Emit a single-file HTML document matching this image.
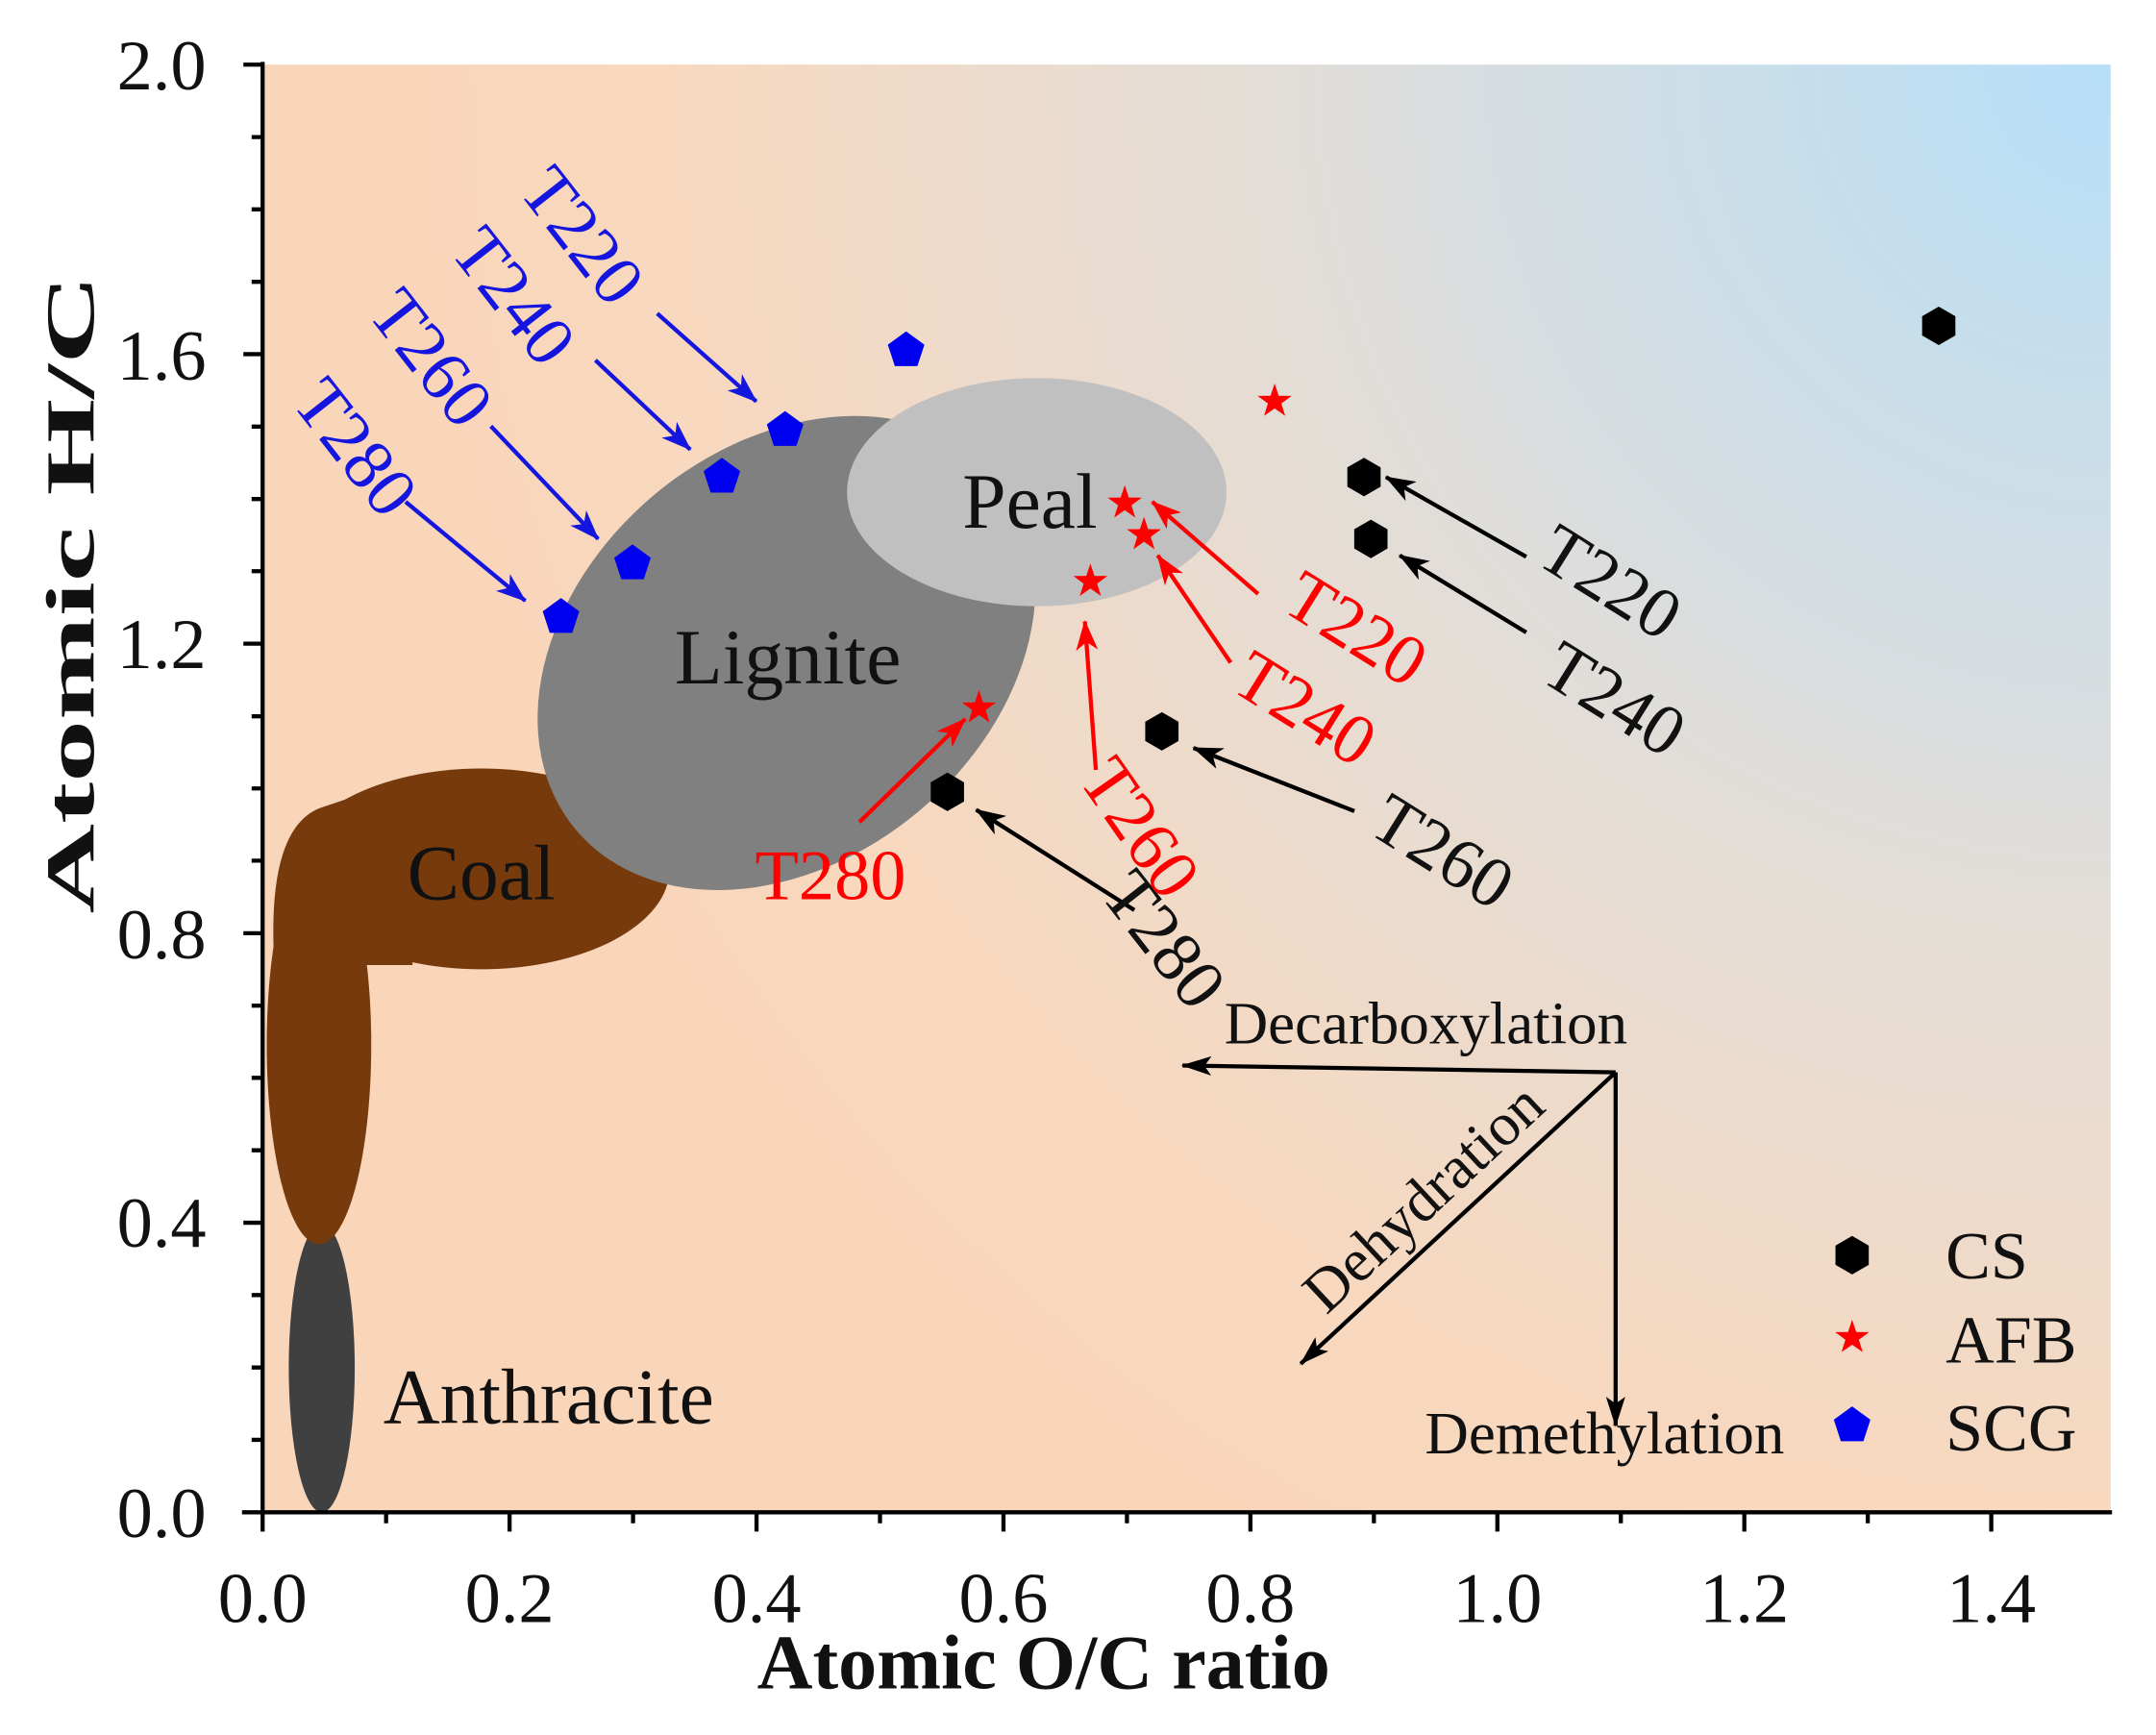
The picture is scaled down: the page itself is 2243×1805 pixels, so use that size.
<!DOCTYPE html>
<html><head><meta charset="utf-8"><style>html,body{margin:0;padding:0;background:#fff}svg{display:block}</style></head>
<body>
<svg width="2243" height="1805" viewBox="0 0 1568 1262" preserveAspectRatio="none" font-family="'Liberation Serif', serif">
<defs>
<radialGradient id="bg" gradientUnits="userSpaceOnUse" cx="1535" cy="47" r="1250">
<stop offset="0" stop-color="#b6def8"/>
<stop offset="0.5" stop-color="#e3ddd7"/>
<stop offset="0.85" stop-color="#f8d8be"/>
<stop offset="1" stop-color="#f9d6ba"/>
</radialGradient>
<marker id="ak" markerWidth="22" markerHeight="14" refX="21" refY="7" orient="auto" markerUnits="userSpaceOnUse"><path d="M0,0 L22,7 L0,14 L5,7z" fill="#000"/></marker>
<marker id="ar" markerWidth="22" markerHeight="16" refX="21" refY="8" orient="auto" markerUnits="userSpaceOnUse"><path d="M0,0 L22,8 L0,16 L6,8z" fill="#f00"/></marker>
<marker id="ab" markerWidth="22" markerHeight="16" refX="21" refY="8" orient="auto" markerUnits="userSpaceOnUse"><path d="M0,0 L22,8 L0,16 L6,8z" fill="#1515e0"/></marker>
<marker id="abk" markerWidth="22" markerHeight="16" refX="21" refY="8" orient="auto" markerUnits="userSpaceOnUse"><path d="M0,0 L22,8 L0,16 L6,8z" fill="#000"/></marker>
<path id="hex" d="M0,-14 L12.1,-7 L12.1,7 L0,14 L-12.1,7 L-12.1,-7Z" fill="#000"/>
<path id="star" d="M0,-13 L3,-4.1 L12.4,-4 L4.9,1.5 L7.7,10.5 L0,5.1 L-7.7,10.5 L-4.9,1.5 L-12.4,-4 L-3,-4.1Z" fill="#f00"/>
<path id="pent" d="M0,-14 L13.3,-4.3 L8.2,11.3 L-8.2,11.3 L-13.3,-4.3Z" fill="#0000f0"/>
</defs>
<rect x="191" y="47" width="1344" height="1053" fill="url(#bg)"/>
<!-- regions -->
<ellipse cx="234" cy="995" rx="24" ry="105" fill="#404040"/>
<g fill="#773a0c">
<ellipse cx="232" cy="760" rx="38" ry="145"/>
<ellipse cx="350" cy="632" rx="137" ry="73"/>
<path d="M199,690 Q196,603 232,588 L300,565 L300,702 L266,702 Z"/>
</g>
<ellipse cx="572" cy="475" rx="200" ry="150" transform="rotate(-40 572 475)" fill="#808080"/>
<ellipse cx="754" cy="358" rx="138" ry="83" fill="#c0c0c0"/>
<g font-size="57" fill="#111" text-anchor="middle">
<text x="749" y="384">Peal</text>
<text x="573" y="497">Lignite</text>
<text x="350" y="654">Coal</text>
<text x="399" y="1035">Anthracite</text>
</g>
<!-- axes -->
<g stroke="#000" stroke-width="3" fill="none">
<line x1="191" y1="45" x2="191" y2="1100"/>
<line x1="176" y1="1100" x2="1536" y2="1100"/>
<path d="M191,1100v14 M370.6,1100v14 M550.2,1100v14 M729.8,1100v14 M909.4,1100v14 M1089,1100v14 M1268.6,1100v14 M1448.2,1100v14"/>
<path d="M280.8,1100v8 M460.4,1100v8 M640,1100v8 M819.6,1100v8 M999.2,1100v8 M1178.8,1100v8 M1358.4,1100v8"/>
<path d="M177,47h14 M177,257.6h14 M177,468.2h14 M177,678.8h14 M177,889.4h14"/>
<path d="M183,99.7h8 M183,152.3h8 M183,205h8 M183,310.3h8 M183,363h8 M183,415.5h8 M183,521h8 M183,573.5h8 M183,626h8 M183,731.5h8 M183,784h8 M183,836.7h8 M183,942h8 M183,994.7h8 M183,1047.3h8"/>
</g>
<g font-size="52" fill="#111" text-anchor="end">
<text x="150" y="65">2.0</text><text x="150" y="276">1.6</text><text x="150" y="486">1.2</text><text x="150" y="697">0.8</text><text x="150" y="907">0.4</text><text x="150" y="1118">0.0</text>
</g>
<g font-size="52" fill="#111" text-anchor="middle">
<text x="191" y="1180">0.0</text><text x="370.6" y="1180">0.2</text><text x="550.2" y="1180">0.4</text><text x="729.8" y="1180">0.6</text><text x="909.4" y="1180">0.8</text><text x="1089" y="1180">1.0</text><text x="1268.6" y="1180">1.2</text><text x="1448.2" y="1180">1.4</text>
</g>
<text x="759" y="1228" font-size="56" font-weight="bold" text-anchor="middle" fill="#111">Atomic O/C ratio</text>
<text transform="translate(68,432) rotate(-90)" font-size="50" font-weight="bold" text-anchor="middle" fill="#111" textLength="465" lengthAdjust="spacingAndGlyphs">Atomic H/C</text>
<!-- process arrows -->
<g stroke="#000" stroke-width="3" fill="none">
<line x1="1175" y1="780" x2="860" y2="775" marker-end="url(#ak)"/>
<line x1="1175" y1="780" x2="1175" y2="1037" marker-end="url(#ak)"/>
<line x1="1175" y1="780" x2="946" y2="992" marker-end="url(#ak)"/>
</g>
<g font-size="44" fill="#111">
<text x="1037" y="759" text-anchor="middle">Decarboxylation</text>
<text x="1167" y="1057" text-anchor="middle">Demethylation</text>
<text transform="translate(1045,882) rotate(-43)" text-anchor="middle">Dehydration</text>
</g>
<!-- annotation arrows black -->
<g stroke="#000" stroke-width="3">
<line x1="1110" y1="405" x2="1008" y2="347" marker-end="url(#abk)"/>
<line x1="1110" y1="460" x2="1018" y2="404" marker-end="url(#abk)"/>
<line x1="985" y1="590" x2="868" y2="544" marker-end="url(#abk)"/>
<line x1="825" y1="662" x2="710" y2="589" marker-end="url(#abk)"/>
</g>
<g font-size="52" fill="#111" text-anchor="middle">
<text transform="translate(1162,438) rotate(32)">T220</text>
<text transform="translate(1165,523) rotate(32)">T240</text>
<text transform="translate(1040,634) rotate(32)">T260</text>
<text transform="translate(833,694) rotate(52)">T280</text>
</g>
<!-- red -->
<g stroke="#f00" stroke-width="3">
<line x1="915" y1="432" x2="838" y2="365" marker-end="url(#ar)"/>
<line x1="895" y1="482" x2="842" y2="404" marker-end="url(#ar)"/>
<line x1="797" y1="560" x2="789" y2="452" marker-end="url(#ar)"/>
<line x1="625" y1="598" x2="702" y2="523" marker-end="url(#ar)"/>
</g>
<g font-size="52" fill="#f00" text-anchor="middle">
<text transform="translate(977,472) rotate(32)">T220</text>
<text transform="translate(940,530) rotate(32)">T240</text>
<text transform="translate(815,612) rotate(55)">T260</text>
<text x="604" y="654">T280</text>
</g>
<!-- blue -->
<g stroke="#1515e0" stroke-width="3">
<line x1="478" y1="228" x2="550" y2="292" marker-end="url(#ab)"/>
<line x1="433" y1="262" x2="502" y2="327" marker-end="url(#ab)"/>
<line x1="357" y1="310" x2="435" y2="392" marker-end="url(#ab)"/>
<line x1="295" y1="365" x2="382" y2="437" marker-end="url(#ab)"/>
</g>
<g font-size="52" fill="#1515e0" text-anchor="middle">
<text transform="translate(410,182) rotate(52)">T220</text>
<text transform="translate(360,226) rotate(52)">T240</text>
<text transform="translate(300,271) rotate(52)">T260</text>
<text transform="translate(245,336) rotate(52)">T280</text>
</g>
<!-- markers -->
<use href="#hex" x="1410" y="237"/><use href="#hex" x="992" y="347"/><use href="#hex" x="997" y="392"/><use href="#hex" x="845" y="532"/><use href="#hex" x="689" y="576"/><use href="#hex" x="1347" y="913"/>
<use href="#star" x="927" y="292"/><use href="#star" x="818" y="366"/><use href="#star" x="832" y="389"/><use href="#star" x="793" y="423"/><use href="#star" x="712" y="515"/><use href="#star" x="1347" y="973"/>
<use href="#pent" x="659" y="255"/><use href="#pent" x="571" y="313"/><use href="#pent" x="525" y="347"/><use href="#pent" x="460" y="410"/><use href="#pent" x="408" y="449"/><use href="#pent" x="1347" y="1037"/>
<g font-size="49" fill="#111">
<text x="1415" y="930">CS</text><text x="1415" y="991">AFB</text><text x="1415" y="1055">SCG</text>
</g>
</svg>
</body></html>
